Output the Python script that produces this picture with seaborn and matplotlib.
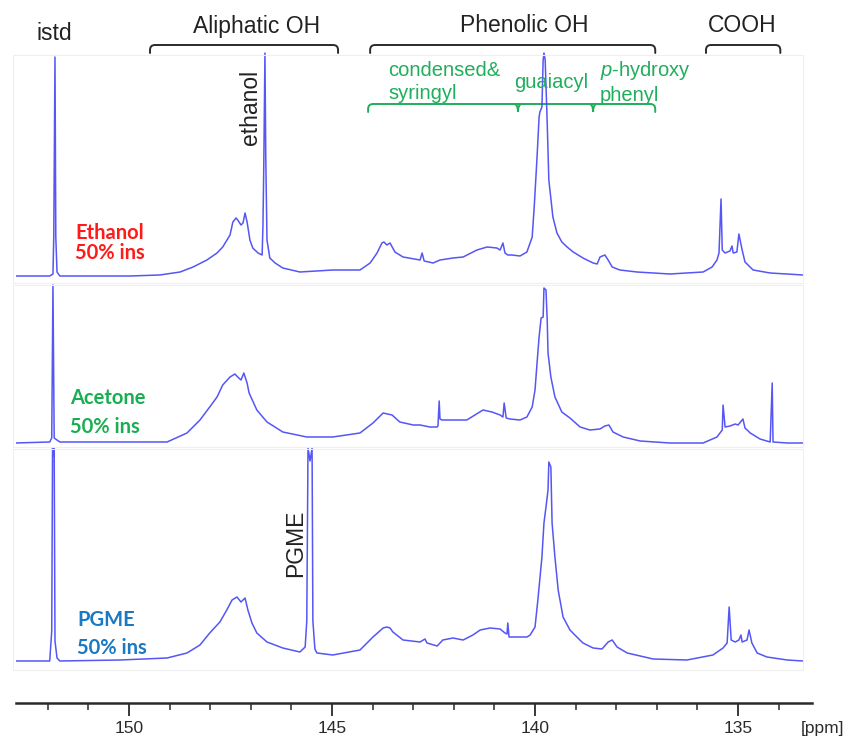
import numpy as np
import pandas as pd
import matplotlib
matplotlib.use("Agg")
import matplotlib.pyplot as plt
import seaborn as sns
from matplotlib.path import Path
from matplotlib.patches import PathPatch, Rectangle
from matplotlib.ticker import MultipleLocator, FixedLocator

sns.set_theme(style="ticks")
plt.rcParams['font.family'] = ['Liberation Sans', 'DejaVu Sans']
plt.rcParams['mathtext.fontset'] = 'custom'
plt.rcParams['mathtext.it'] = 'Liberation Sans:italic'
plt.rcParams['mathtext.rm'] = 'Liberation Sans'

# ---------------- data ----------------
# (chemical shift in ppm, intensity above the trace baseline, arbitrary units)
ethanol_points = [
    (152.86, 1), (152.19, 1), (151.95, 1), (151.87, 3), (151.85, 40), (151.82, 220),
    (151.80, 40), (151.77, 5), (151.70, 1), (150.71, 1), (149.98, 1), (149.24, 2),
    (148.74, 5), (148.42, 10), (148.08, 17), (147.83, 24), (147.69, 30), (147.51, 42),
    (147.44, 55), (147.36, 59), (147.32, 57), (147.24, 52), (147.19, 54), (147.14, 64),
    (147.09, 55), (147.02, 37), (146.95, 29), (146.82, 24), (146.72, 22), (146.70, 50),
    (146.68, 107), (146.65, 224), (146.63, 120), (146.60, 37), (146.53, 19), (146.40, 14),
    (146.21, 9), (145.79, 5), (144.98, 7), (144.31, 7), (144.06, 14), (143.89, 24),
    (143.77, 34), (143.72, 35), (143.65, 32), (143.57, 34), (143.45, 25), (143.25, 20),
    (142.83, 17), (142.78, 24), (142.73, 16), (142.51, 14), (142.34, 17), (142.02, 19),
    (141.77, 20), (141.43, 27), (141.18, 30), (140.94, 29), (140.86, 27), (140.79, 34),
    (140.74, 24), (140.67, 22), (140.57, 22), (140.37, 21), (140.20, 25), (140.07, 40),
    (140.02, 70), (139.95, 120), (139.90, 160), (139.88, 165), (139.83, 170), (139.80, 217),
    (139.78, 224), (139.75, 217), (139.70, 154), (139.66, 97), (139.56, 60), (139.46, 44),
    (139.34, 35), (139.21, 30), (139.06, 25), (138.82, 19), (138.57, 14), (138.47, 13),
    (138.40, 20), (138.28, 22), (138.20, 17), (138.10, 10), (137.91, 7), (137.49, 5),
    (136.68, 3), (135.86, 5), (135.64, 10), (135.52, 17), (135.47, 24), (135.42, 78),
    (135.39, 27), (135.32, 24), (135.20, 26), (135.15, 31), (135.12, 24), (135.03, 25),
    (134.98, 43), (134.90, 27), (134.83, 15), (134.63, 7), (134.21, 4), (133.40, 2),
]

acetone_points = [
    (152.81, 0), (151.95, 1), (151.90, 5), (151.87, 158), (151.84, 5), (151.70, 1),
    (150.22, 1), (149.06, 1), (148.57, 10), (148.25, 23), (148.01, 36), (147.83, 46),
    (147.69, 58), (147.51, 66), (147.39, 69), (147.32, 66), (147.24, 63), (147.17, 70),
    (147.09, 60), (147.04, 50), (146.85, 33), (146.60, 21), (146.21, 11), (145.62, 6),
    (144.98, 6), (144.31, 10), (143.99, 20), (143.74, 30), (143.52, 28), (143.33, 21),
    (143.00, 18), (142.83, 18), (142.59, 16), (142.41, 16), (142.39, 17), (142.36, 42),
    (142.34, 24), (142.29, 23), (142.02, 23), (141.68, 23), (141.48, 28), (141.28, 33),
    (141.06, 31), (140.86, 28), (140.79, 26), (140.76, 40), (140.71, 25), (140.62, 24),
    (140.37, 23), (140.20, 26), (140.07, 36), (140.00, 53), (139.95, 80), (139.90, 106),
    (139.85, 125), (139.80, 126), (139.78, 155), (139.73, 153), (139.70, 123), (139.68, 90),
    (139.61, 66), (139.51, 46), (139.34, 31), (139.14, 25), (138.89, 16), (138.65, 13),
    (138.40, 14), (138.28, 17), (138.18, 18), (138.08, 11), (137.83, 6), (137.41, 2),
    (136.68, 0), (135.86, 0), (135.52, 6), (135.39, 13), (135.37, 38), (135.32, 16),
    (135.20, 17), (135.07, 19), (135.00, 18), (134.88, 24), (134.83, 15), (134.70, 10),
    (134.46, 4), (134.21, 1), (134.16, 60), (134.14, 1), (133.79, 0), (133.40, 0),
]

pgme_points = [
    (152.81, 0), (151.95, 0), (151.90, 30), (151.88, 213), (151.86, 205), (151.84, 213),
    (151.82, 20), (151.77, 3), (151.70, 0), (150.22, 1), (149.06, 3), (148.57, 8),
    (148.25, 16), (148.01, 28), (147.76, 39), (147.59, 51), (147.46, 61), (147.34, 64),
    (147.24, 59), (147.14, 63), (147.07, 51), (146.97, 38), (146.85, 28), (146.60, 19),
    (146.21, 13), (145.79, 9), (145.66, 14), (145.62, 40), (145.59, 213), (145.54, 200),
    (145.49, 213), (145.47, 40), (145.42, 12), (145.37, 8), (144.98, 6), (144.31, 11),
    (143.99, 24), (143.74, 33), (143.65, 34), (143.57, 33), (143.50, 29), (143.25, 21),
    (142.83, 19), (142.71, 22), (142.66, 18), (142.41, 15), (142.27, 21), (142.02, 23),
    (141.77, 21), (141.53, 26), (141.35, 31), (141.11, 33), (140.86, 32), (140.74, 28),
    (140.69, 27), (140.67, 38), (140.64, 24), (140.44, 24), (140.20, 24), (140.12, 26),
    (140.00, 34), (139.93, 61), (139.83, 104), (139.78, 138), (139.73, 154), (139.68, 171),
    (139.66, 199), (139.61, 194), (139.58, 138), (139.51, 104), (139.43, 71), (139.31, 44),
    (139.14, 31), (138.97, 24), (138.82, 18), (138.57, 13), (138.35, 12), (138.20, 19),
    (138.10, 21), (137.98, 14), (137.73, 8), (137.09, 2), (136.26, 1), (135.62, 6),
    (135.37, 13), (135.27, 18), (135.22, 54), (135.17, 21), (135.07, 19), (134.98, 21),
    (134.93, 26), (134.90, 19), (134.78, 21), (134.73, 31), (134.66, 18), (134.53, 8),
    (134.29, 4), (133.79, 1), (133.40, 0),
]

sample_names = ["Ethanol", "Acetone", "PGME"]
sample_note = "50% ins"
sample_colors = ["#ff1a1a", "#1aae52", "#1b78c2"]

region_labels = ["Aliphatic OH", "Phenolic OH", "COOH"]
region_ranges = [(149.48, 144.85), (144.06, 137.04), (135.79, 133.96)]
phenolic_labels = ["condensed&\nsyringyl", "guaiacyl", "$\\mathit{p}$-hydroxy\nphenyl"]
phenolic_ranges = [(144.11, 140.42), (140.42, 138.57), (138.57, 137.04)]
major_ticks = [150, 145, 140, 135]

# ---------------- layout helpers ----------------
W, H = 844, 744
PX_PER_PPM = 40.6
BASE_PIX = 661                       # bottom baseline in pixels
offsets = [661 - 277, 661 - 443, 0]  # vertical offsets of the three traces


def Y(ypix):
    return BASE_PIX - ypix


def FX(x):
    return x / W


def FY(y):
    return 1 - y / H


fig = plt.figure(figsize=(W / 100, H / 100), dpi=100)
fig.patch.set_facecolor("white")

# faint panel frames
for (y0, y1) in [(55, 283), (285, 447), (449, 670)]:
    fig.add_artist(Rectangle((FX(13), FY(y1)), FX(803) - FX(13), FY(y0) - FY(y1),
                             transform=fig.transFigure, fill=False,
                             edgecolor="#efefef", lw=0.8))

ax = fig.add_axes([16 / W, (H - 703) / H, 796 / W, 663 / H])
ax.set_facecolor("none")

traces = [ethanol_points, acetone_points, pgme_points]
for pts, off in zip(traces, offsets):
    ppm, inten = zip(*pts)
    df = pd.DataFrame({"ppm": ppm, "intensity": np.asarray(inten, float) + off})
    sns.lineplot(data=df, x="ppm", y="intensity", ax=ax, color="#4343f4",
                 lw=1.1, estimator=None, sort=False, alpha=0.9)

ax.set_xlim(152.78, 133.18)
ax.set_ylim(-42, 621)
sns.despine(ax=ax, left=True)
ax.spines["bottom"].set_linewidth(1.8)
ax.spines["bottom"].set_color("#2a2a2a")
ax.set_yticks([])
ax.set_xlabel("")
ax.set_ylabel("")
ax.xaxis.set_major_locator(FixedLocator(major_ticks))
ax.xaxis.set_minor_locator(MultipleLocator(1))
ax.tick_params(axis="x", which="major", direction="out", length=9, width=1.3,
               labelsize=12.5, pad=4, colors="#2a2a2a", bottom=True)
ax.tick_params(axis="x", which="minor", direction="out", length=5, width=1.1,
               colors="#2a2a2a", bottom=True)
fig.text(FX(822), FY(728), "[ppm]", ha="center", va="center", fontsize=12.5, color="#2a2a2a")


# ---------------- brackets ----------------
def bracket(x0, x1, ypix, depth, color, lw):
    rx = 5 / PX_PER_PPM
    yt = Y(ypix)
    verts = [(x0, yt - depth), (x0, yt - 5), (x0, yt), (x0 - rx, yt),
             (x1 + rx, yt), (x1, yt), (x1, yt - 5), (x1, yt - depth)]
    codes = [Path.MOVETO, Path.LINETO, Path.CURVE3, Path.CURVE3,
             Path.LINETO, Path.CURVE3, Path.CURVE3, Path.LINETO]
    ax.add_patch(PathPatch(Path(verts, codes), fill=False, edgecolor=color,
                           lw=lw, clip_on=False, capstyle="round"))


def tip(xt, ypix, depth, color, lw):
    rx = 4 / PX_PER_PPM
    yt = Y(ypix)
    verts = [(xt + rx, yt), (xt, yt), (xt, yt - depth), (xt, yt), (xt - rx, yt)]
    codes = [Path.MOVETO, Path.CURVE3, Path.CURVE3, Path.CURVE3, Path.CURVE3]
    ax.add_patch(PathPatch(Path(verts, codes), fill=False, edgecolor=color,
                           lw=lw, clip_on=False))


for (x0, x1) in region_ranges:
    bracket(x0, x1, 45, 8, "#2a2a2a", 1.4)

green = "#1fae5b"
bracket(phenolic_ranges[0][0], phenolic_ranges[-1][1], 104, 8, green, 1.4)
for (x0, x1) in phenolic_ranges[1:]:
    tip(x0, 104, 8, green, 1.4)

# ---------------- texts ----------------
tcol = "#222222"
fig.text(FX(54), FY(34), "istd", ha="center", va="center", fontsize=16.5, color=tcol)
for lab, xpix in zip(region_labels, [257, 524, 742]):
    fig.text(FX(xpix), FY(26), lab, ha="center", va="center", fontsize=16.5, color=tcol)

fig.text(FX(251), FY(107), "ethanol", ha="center", va="center", rotation=90,
         fontsize=16.5, color=tcol)
fig.text(FX(296), FY(543), "PGME", ha="center", va="center", rotation=90,
         fontsize=16.5, color=tcol)

for lab, xpix in zip(phenolic_labels, [388, 514, 600]):
    fig.text(FX(xpix), FY(82), lab, ha="left", va="center", fontsize=14.5,
             color=green, linespacing=1.3)

name_pos = [(75, 233, 253), (70, 398, 427), (77, 620, 648)]
for name, col, (xp, y1, y2) in zip(sample_names, sample_colors, name_pos):
    fig.text(FX(xp), FY(y1), name, ha="left", va="center", fontsize=14.5,
             fontweight="bold", color=col, family=["Lato", "DejaVu Sans"])
    fig.text(FX(xp), FY(y2), sample_note, ha="left", va="center", fontsize=14.5,
             fontweight="bold", color=col, family=["Lato", "DejaVu Sans"])

fig.savefig("out.png", dpi=100, facecolor="white")
